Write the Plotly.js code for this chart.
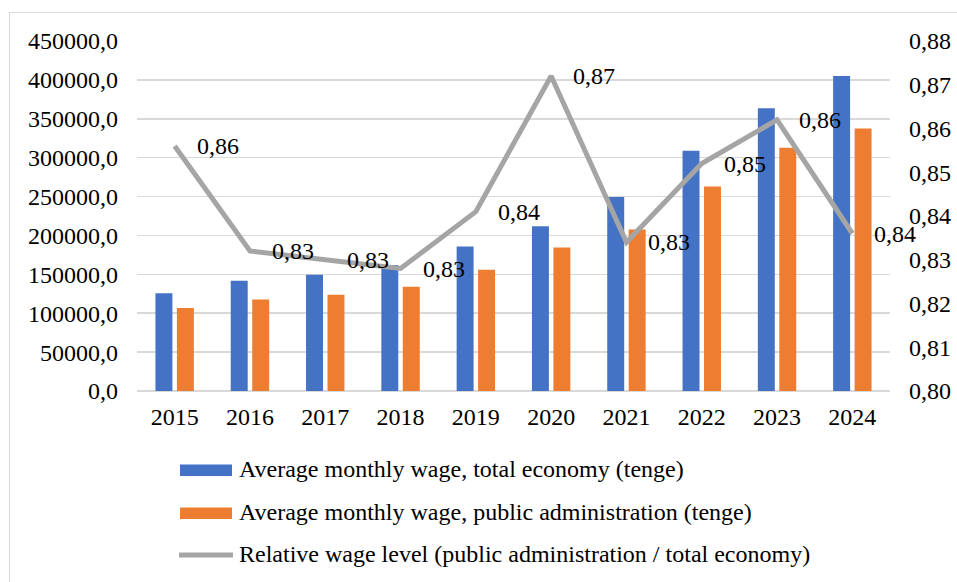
<!DOCTYPE html>
<html>
<head>
<meta charset="utf-8">
<script src="https://cdn.plot.ly/plotly-3.0.1.min.js"></script>
<style>
  html, body { margin: 0; padding: 0; background: #fff; }
  #wrap { position: relative; width: 957px; height: 582px; overflow: hidden; }
  #chart { position: absolute; left: 0; top: 0; width: 957px; height: 582px; }
  #frame { position: absolute; left: 9px; top: 12px; width: 1000px; height: 1000px;
           border-left: 1.5px solid #d9d9d9; border-top: 1.5px solid #d9d9d9; pointer-events: none; }
</style>
</head>
<body>
<div id="wrap">
  <div id="chart"></div>
  <div id="frame"></div>
</div>
<script>
// ---- data ----
const years = ['2015','2016','2017','2018','2019','2020','2021','2022','2023','2024'];
const wageTotal = [125700, 141800, 149600, 162000, 185700, 211900, 249300, 309000, 363600, 404900];
const wagePublic = [106600, 117700, 123800, 134100, 156000, 184400, 207600, 263000, 312900, 337400];
const relativeLevel = [0.856, 0.832, 0.830, 0.828, 0.841, 0.872, 0.834, 0.852, 0.862, 0.836];
const seriesNames = [
  'Average monthly wage, total economy (tenge)',
  'Average monthly wage, public administration (tenge)',
  'Relative wage level (public administration / total economy)'
];

// ---- styling ----
const FONT = 'Liberation Serif, Times New Roman, serif';
const FS = 24;
const BLUE = '#4472c4', ORANGE = '#ed7d31', GRAY = '#a5a5a5', GRID = '#d9d9d9';
const L = 137, R = 890, T = 41, B = 391;
const px2x = px => (px - L) / (R - L);
const px2y = py => (B - py) / (B - T);

const traces = [
  { type: 'bar', x: years, y: wageTotal, name: seriesNames[0], marker: { color: BLUE }, hoverinfo: 'skip' },
  { type: 'bar', x: years, y: wagePublic, name: seriesNames[1], marker: { color: ORANGE }, hoverinfo: 'skip' },
  { type: 'scatter', mode: 'lines', x: years, y: relativeLevel, name: seriesNames[2], yaxis: 'y2',
    line: { color: GRAY, width: 5 }, hoverinfo: 'skip' }
];

const annotations = years.map((yr, i) => ({
  x: i, y: relativeLevel[i], xref: 'x', yref: 'y2',
  text: relativeLevel[i].toFixed(2).replace('.', ','),
  showarrow: false, xanchor: 'left', yanchor: 'middle', xshift: 20,
  font: { family: FONT, size: FS, color: '#000' }
}));

// custom legend
const legendRows = [470, 513, 555];
const shapes = [
  { type: 'rect', xref: 'paper', yref: 'paper', x0: px2x(180), x1: px2x(232), y0: px2y(464.5), y1: px2y(476),
    fillcolor: BLUE, line: { width: 0 } },
  { type: 'rect', xref: 'paper', yref: 'paper', x0: px2x(180), x1: px2x(232), y0: px2y(507.5), y1: px2y(519),
    fillcolor: ORANGE, line: { width: 0 } },
  { type: 'line', xref: 'paper', yref: 'paper', x0: px2x(179), x1: px2x(233), y0: px2y(555), y1: px2y(555),
    line: { color: GRAY, width: 5 } }
];
seriesNames.forEach((nm, i) => {
  annotations.push({
    xref: 'paper', yref: 'paper', x: px2x(237), y: px2y(legendRows[i] - 1),
    text: nm, showarrow: false, xanchor: 'left', yanchor: 'middle',
    font: { family: FONT, size: FS, color: '#000' }
  });
});

const layout = {
  width: 957, height: 582,
  margin: { l: L, r: 957 - R, t: T, b: 582 - B, pad: 0 },
  paper_bgcolor: '#fff', plot_bgcolor: '#fff',
  separators: ',.',
  font: { family: FONT, size: FS, color: '#000' },
  showlegend: false,
  barmode: 'group', bargap: 0.43, bargroupgap: 0.21,
  xaxis: { type: 'category', range: [-0.5, years.length - 0.5], autorange: false,
           showgrid: false, showline: false, zeroline: false, ticks: '',
           ticklabelstandoff: 9, tickfont: { family: FONT, size: FS, color: '#000' } },
  yaxis: { range: [0, 450000], autorange: false, dtick: 50000, tick0: 0, tickformat: '.1f',
           showgrid: true, gridcolor: GRID, gridwidth: 1.5, zeroline: true, zerolinecolor: GRID, zerolinewidth: 1.5,
           showline: false, ticks: '', ticklabelstandoff: 18, tickfont: { family: FONT, size: FS, color: '#000' } },
  yaxis2: { range: [0.80, 0.88], autorange: false, dtick: 0.01, tick0: 0.80, tickformat: '.2f', overlaying: 'y', side: 'right',
            showgrid: false, zeroline: false, showline: false, ticks: '', ticklabelstandoff: 18,
            tickfont: { family: FONT, size: FS, color: '#000' } },
  annotations: annotations,
  shapes: shapes
};

Plotly.newPlot('chart', traces, layout, { staticPlot: true, displayModeBar: false });
</script>
</body>
</html>
